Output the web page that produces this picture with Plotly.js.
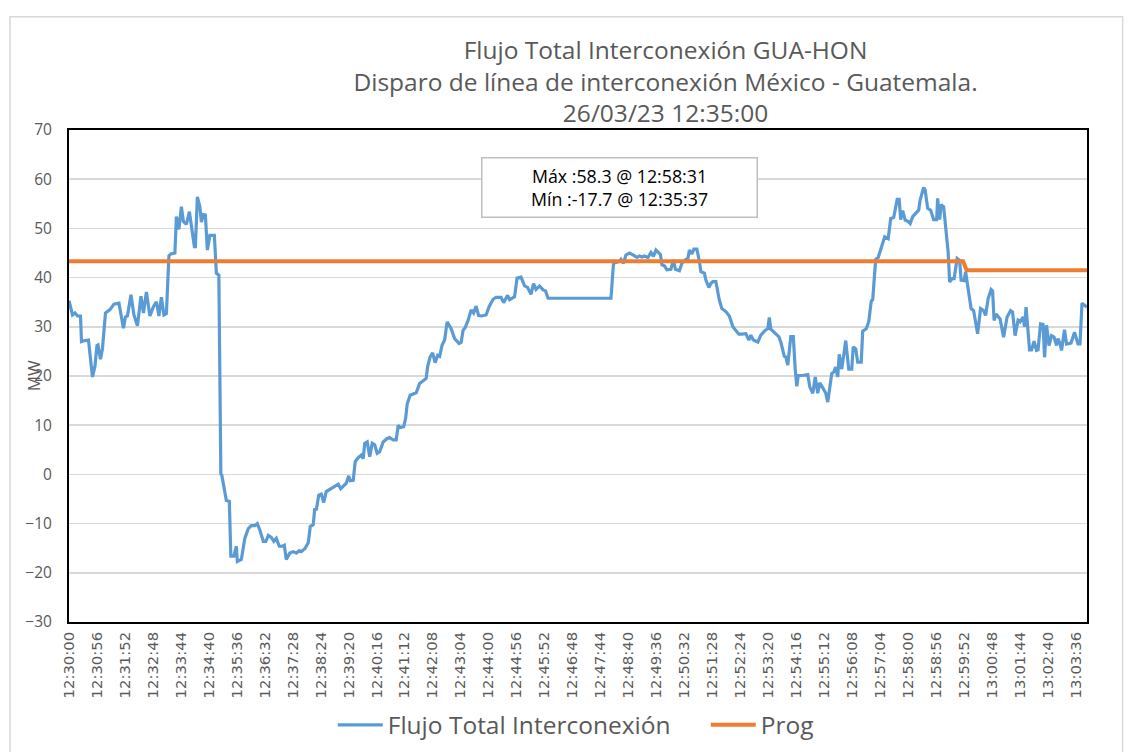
<!DOCTYPE html>
<html>
<head>
<meta charset="utf-8">
<script src="https://cdn.plot.ly/plotly-3.0.1.min.js"></script>
<style>html,body{margin:0;padding:0;background:#fff;}#chart{width:1128px;height:752px;}</style>
</head>
<body>
<div id="chart"></div>
<script>
// Seconds after 12:30:00
const flowT = [0,7,12,17,23,25,32,39,47,52,56,58,63,67,73,82,90,100,109,113,117,124,130,137,144,149,155,162,169,175,180,185,190,195,200,204,212,215,220,225,229,235,241,245,251,253,257,262,265,269,273,277,282,291,295,300,304,306,315,321,324,330,335,337,341,345,352,359,365,372,377,382,389,394,399,405,410,415,421,427,431,435,442,449,455,461,465,472,479,483,489,492,495,500,505,510,515,525,534,539,544,551,555,560,563,569,573,579,585,589,592,597,602,607,612,617,622,629,637,642,649,655,659,662,670,674,677,683,695,702,710,715,718,723,728,733,738,742,747,752,757,765,772,781,785,789,793,799,805,810,815,820,826,835,841,849,855,865,870,875,878,882,887,892,897,905,912,918,925,930,935,942,949,954,959,1085,1090,1095,1102,1105,1110,1115,1122,1129,1137,1142,1147,1152,1159,1165,1170,1175,1181,1184,1187,1192,1197,1205,1210,1214,1222,1227,1234,1239,1242,1247,1251,1257,1262,1265,1272,1275,1281,1285,1289,1295,1302,1307,1315,1322,1329,1334,1341,1347,1355,1361,1365,1370,1379,1385,1394,1399,1402,1405,1410,1415,1421,1425,1432,1435,1439,1445,1450,1454,1457,1460,1469,1479,1483,1489,1494,1499,1503,1509,1515,1519,1523,1527,1531,1535,1539,1542,1547,1555,1561,1567,1570,1575,1579,1586,1589,1596,1601,1606,1609,1615,1620,1626,1633,1640,1645,1651,1658,1662,1665,1669,1674,1680,1684,1689,1696,1701,1704,1711,1714,1719,1725,1731,1737,1739,1743,1746,1751,1757,1760,1763,1768,1772,1778,1783,1786,1792,1795,1798,1804,1806,1811,1819,1825,1831,1835,1840,1846,1849,1852,1856,1864,1871,1878,1885,1889,1894,1900,1904,1910,1913,1916,1919,1923,1927,1932,1937,1940,1945,1950,1953,1957,1962,1967,1972,1977,1980,1984,1987,1993,1997,2006,2013,2020,2024,2028,2033,2038];
const flowV = [35.3,32.4,32.8,32.2,32.2,27.0,27.2,27.3,19.8,22.0,26.2,26.3,23.4,25.6,32.8,33.5,34.6,34.8,29.7,32.0,32.2,36.5,32.4,30.2,36.2,32.8,37.1,32.2,34.1,35.1,32.2,36.0,32.4,32.7,44.4,44.8,45.0,52.4,49.8,54.4,51.4,50.8,53.4,50.4,46.3,46.3,56.4,54.4,51.3,52.8,52.7,45.6,48.6,48.6,40.9,40.5,0.1,-0.2,-5.3,-5.5,-16.6,-16.6,-14.6,-17.7,-17.4,-17.3,-13.0,-11.0,-10.4,-10.4,-10.0,-11.3,-13.6,-13.6,-12.4,-12.8,-13.6,-13.0,-14.6,-14.6,-14.4,-17.3,-16.0,-15.7,-16.0,-15.5,-15.7,-15.1,-13.9,-10.6,-10.2,-6.9,-7.3,-4.2,-4.0,-5.7,-3.5,-2.9,-2.2,-2.0,-2.9,-2.2,-1.8,-0.3,-1.3,-1.2,2.6,3.4,3.9,3.2,6.3,6.6,3.6,6.3,6.0,4.3,4.6,6.6,7.3,7.5,7.0,7.0,10.0,9.5,9.7,11.4,14.3,16.1,16.6,18.5,19.0,19.5,21.9,23.9,24.7,22.7,24.2,24.0,26.3,27.3,31.0,29.6,27.6,26.6,26.8,29.3,29.8,31.3,33.4,32.8,34.2,32.3,32.2,32.4,34.1,35.6,36.0,36.0,34.9,36.0,36.4,35.5,35.8,36.1,39.9,40.1,38.3,38.0,36.6,38.8,37.6,38.3,37.5,37.3,35.8,35.8,42.9,43.1,43.3,43.7,42.9,44.6,45.0,44.6,44.1,44.4,44.2,44.4,44.1,45.1,44.3,45.6,44.9,44.7,42.6,42.4,41.6,41.7,43.6,41.7,41.4,42.9,43.6,43.9,45.6,44.8,45.8,45.8,43.3,41.2,40.9,39.5,38.0,38.8,39.2,39.2,35.4,33.7,33.1,32.2,30.0,29.3,28.5,28.5,28.6,27.3,28.3,27.3,26.9,28.3,29.3,29.6,31.9,29.5,29.0,28.6,28.0,26.9,24.0,23.9,22.2,28.0,28.0,21.2,17.9,20.1,20.1,20.3,17.8,16.5,19.8,16.5,18.6,17.6,16.5,14.7,18.1,20.5,20.8,21.8,19.8,24.4,21.4,27.2,21.4,21.4,25.9,25.5,22.8,22.8,29.1,29.6,31.0,35.2,35.5,43.7,44.1,46.3,48.3,47.9,52.0,52.2,55.9,55.9,51.8,53.6,51.7,51.4,51.0,52.4,53.1,53.7,55.8,58.3,57.8,54.1,53.7,51.8,51.8,56.1,51.8,54.8,54.4,47.6,45.2,39.1,39.8,39.8,43.9,43.5,39.5,39.4,41.2,39.1,34.4,33.7,33.3,28.6,33.7,33.3,32.3,35.7,37.6,37.3,31.3,32.6,31.6,27.9,32.0,33.3,33.0,28.2,31.3,31.0,32.0,30.0,34.0,29.9,25.3,25.3,27.1,25.2,25.3,30.6,30.5,23.8,30.3,26.2,28.2,27.9,26.2,27.6,26.6,25.2,29.4,26.5,26.7,28.9,26.5,26.5,34.8,34.4,34.0];
// Programmed flow (Prog)
const progT = [0,1790,1797,2038];
const progV = [43.3,43.3,41.5,41.5];
// Category labels shown on the x axis (one every 56 s)
const tickLabels = ["12:30:00","12:30:56","12:31:52","12:32:48","12:33:44","12:34:40","12:35:36","12:36:32","12:37:28","12:38:24","12:39:20","12:40:16","12:41:12","12:42:08","12:43:04","12:44:00","12:44:56","12:45:52","12:46:48","12:47:44","12:48:40","12:49:36","12:50:32","12:51:28","12:52:24","12:53:20","12:54:16","12:55:12","12:56:08","12:57:04","12:58:00","12:58:56","12:59:52","13:00:48","13:01:44","13:02:40","13:03:36"];
const tickStep = 56;
const yTicks = [-30,-20,-10,0,10,20,30,40,50,60,70];
const titleLines = ["Flujo Total Interconexión GUA-HON","Disparo de línea de interconexión México - Guatemala.","26/03/23 12:35:00"];
const statsText = ["Máx :58.3 @ 12:58:31","Mín :-17.7 @ 12:35:37"];

const txtFont = "'Open Sans', 'Noto Sans', sans-serif";

const traces = [
  {x: flowT, y: flowV, type: 'scatter', mode: 'lines', name: 'Flujo Total Interconexión',
   line: {color: '#5B9BD5', width: 3.2}},
  {x: progT, y: progV, type: 'scatter', mode: 'lines', name: 'Prog',
   line: {color: '#ED7D31', width: 4}}
];

const layout = {
  width: 1128, height: 752,
  margin: {l: 69, r: 41, t: 130, b: 130, autoexpand: false},
  paper_bgcolor: '#ffffff', plot_bgcolor: '#ffffff',
  font: {family: txtFont, color: '#595959'},
  title: {text: titleLines.join('<br>'), x: 0.59, xanchor: 'center', y: 0.922, yanchor: 'top',
          font: {size: 24.5, color: '#595959', family: txtFont}},
  showlegend: true,
  legend: {orientation: 'h', xref: 'container', yref: 'container',
           x: 0.295, xanchor: 'left', y: 0.036, yanchor: 'middle',
           entrywidth: 313, entrywidthmode: 'pixels', itemwidth: 45,
           font: {size: 24.5, color: '#595959', family: txtFont}, traceorder: 'normal'},
  xaxis: {
    range: [0, flowT[flowT.length - 1]], showgrid: false, zeroline: false, automargin: false,
    tickmode: 'array', tickvals: tickLabels.map((_, i) => i * tickStep), ticktext: tickLabels,
    tickangle: -90, tickfont: {family: "'DejaVu Sans', sans-serif", size: 14.8, color: '#595959'},
    ticks: '', ticklabelstandoff: 2, showline: true, linecolor: '#000', linewidth: 2, mirror: true
  },
  yaxis: {
    range: [-30, 70], tickmode: 'array', tickvals: yTicks, ticks: '', automargin: false,
    showgrid: true, gridcolor: '#d9d9d9', gridwidth: 1.5, zeroline: false,
    showline: true, linecolor: '#000', linewidth: 2, mirror: true,
    tickfont: {family: txtFont, size: 15.5, color: '#595959'}, ticklabelstandoff: 12
  },
  shapes: [
    {type: 'rect', xref: 'paper', yref: 'paper', x0: -0.058, x1: 1.035, y0: -0.27, y1: 1.23,
     line: {color: '#d9d9d9', width: 1.5}, fillcolor: 'rgba(0,0,0,0)', layer: 'below'}
  ],
  annotations: [
    {xref: 'paper', yref: 'paper', x: -0.035, y: 0.5, xanchor: 'center', yanchor: 'middle',
     text: 'MW', textangle: -90, showarrow: false,
     font: {family: txtFont, size: 17, color: '#595959'}},
    {xref: 'paper', yref: 'paper', x: 0.541, y: 0.884, xanchor: 'center', yanchor: 'middle',
     text: statsText.join('<br>'), showarrow: false, align: 'center',
     font: {family: txtFont, size: 17.8, color: '#000'},
     bgcolor: '#ffffff', bordercolor: '#bfbfbf', borderwidth: 1.5, borderpad: 3, width: 268, height: 52}
  ]
};

Plotly.newPlot('chart', traces, layout, {displayModeBar: false, staticPlot: true});
</script>
</body>
</html>
